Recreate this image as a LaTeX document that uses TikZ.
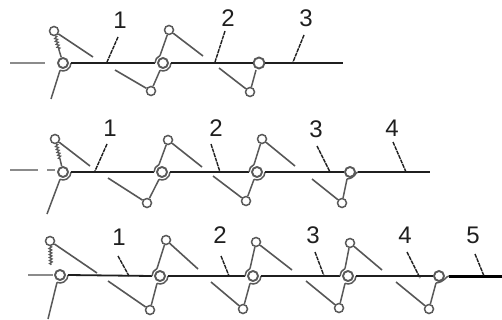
\documentclass[tikz,border=0pt]{standalone}
\usepackage{fontspec}
\setmainfont{Liberation Sans}
\usetikzlibrary{calc,decorations.pathmorphing}
\definecolor{ink}{gray}{0.12}
\definecolor{mid}{gray}{0.35}
\tikzset{
  x=1pt,y=-1pt,
  pinc/.style={circle,draw=mid,line width=1.5pt,fill=white,minimum size=9pt,inner sep=0pt},
  hubc/.style={circle,draw=mid,line width=1.9pt,minimum size=10pt,inner sep=0pt},
  link/.style={draw=mid,line width=1.5pt},
  lever/.style={draw=ink!75!white,line width=1.6pt},
  mainl/.style={draw=ink,line width=1.8pt},
  thickl/.style={draw=black,line width=3pt},
  dashl/.style={draw=mid!70!white,line width=1.6pt},
  leader/.style={draw=ink,line width=1.4pt,dash pattern=on 4pt off 0.8pt},
  spring/.style={draw=mid,line width=1.3pt,decorate,decoration={zigzag,amplitude=1.3pt,segment length=3pt}},
  lab/.style={font=\fontsize{24}{26}\selectfont,text=ink,inner sep=0pt}
}
% hub: name, x, y; defines the ends of its two hook arcs
\newcommand{\hubat}[3]{%
  \node[hubc] (#1) at (#2,#3) {};
  \coordinate (#1-l) at ($(#1.center)+(-8,0)$);
  \coordinate (#1-u) at ($(#1.center)+(-3,-7.4)$);
  \coordinate (#1-r) at ($(#1.center)+(8,0)$);
  \coordinate (#1-d) at ($(#1.center)+(-3,7.4)$);
  \draw[link] (#1-r) arc[start angle=0,end angle=112,radius=8];
}
\newcommand{\uparc}[1]{\draw[link] (#1-l) arc[start angle=180,end angle=248,radius=8];}
\newcommand{\labelled}[7]{%
  \node[lab] (#1) at (#2,#3) {#4};
  \coordinate (#1-t) at (#5,#6);
  \coordinate (#1-b) at (#7);
  \draw[leader] (#1-t) -- (#1-b);
}
\begin{document}
\begin{tikzpicture}
\useasboundingbox (0,0) rectangle (502,320);
\fill[white] (0,0) rectangle (502,320);

% ---------- row 1
\hubat{a1}{63}{63}\hubat{a2}{163}{63}
\node[hubc,minimum size=11pt] (a3) at (259,63) {};
\coordinate (a3-d) at (256,70);
\foreach \n/\x/\y in {at1/54/31,at2/169/30,ab2/151/91,ab3/250/92}
  \node[pinc] (\n) at (\x,\y) {};
\coordinate (aend) at (343,63);
\coordinate (adash1) at (10,63);\coordinate (adash2) at (45,63);
\coordinate (aleg) at (51,99);\coordinate (as1) at (59,50);
\coordinate (al1) at (93,57);\coordinate (al2) at (115,70);
\coordinate (al3) at (203,56);\coordinate (al4) at (219,68);
\draw[dashl] (adash1) -- (adash2);
\draw[mainl] (a1-r) -- (a2-l) (a2-r) -- (a3) (a3) -- (aend);
\uparc{a2}
\draw[spring] (at1) -- (as1);
\draw[link] (as1) -- (a1);
\draw[link] (a1-d) -- (aleg);
\draw[link] (at2) -- (a2-u);
\draw[link] (ab2) -- (a2-d);
\draw[link] (ab3) -- (a3-d);
\draw[lever] (at1) -- (al1);
\draw[lever] (al2) -- (ab2);
\draw[lever] (at2) -- (al3);
\draw[lever] (al4) -- (ab3);
\coordinate (ah1) at (107,62);\coordinate (ah2) at (215,62);\coordinate (ah3) at (293,62);
\labelled{la1}{120}{20}{1}{118}{37}{ah1}
\labelled{la2}{228}{18}{2}{225}{31}{ah2}
\labelled{la3}{306}{18}{3}{304}{35}{ah3}

% ---------- row 2
\hubat{b1}{63}{172}\hubat{b2}{162}{172}\hubat{b3}{257}{172}
\node[hubc] (b4) at (350,172) {};
\coordinate (b4-r) at (358,172);\coordinate (b4-d) at (347,179);
\draw[link] (b4-r) .. controls (355,172) and (356,178) .. (b4-d);
\foreach \n/\x/\y in {bt1/55/139,bt2/168/140,bt3/262/139,bb2/147/203,bb3/246/201,bb4/342/203}
  \node[pinc] (\n) at (\x,\y) {};
\coordinate (bend) at (430,172);
\coordinate (bdash1) at (10,170);\coordinate (bdash2) at (38,170);
\coordinate (bdash3) at (47,170);\coordinate (bdash4) at (55,170);
\coordinate (bleg) at (47,214);\coordinate (bs1) at (60,159);
\coordinate (bl1) at (90,166);\coordinate (bl2) at (108,178);
\coordinate (bl3) at (202,167);\coordinate (bl4) at (213,176);
\coordinate (bl5) at (295,166);\coordinate (bl6) at (312,179);
\draw[dashl] (bdash1) -- (bdash2) (bdash3) -- (bdash4);
\draw[mainl] (b1-r) -- (b2-l) (b2-r) -- (b3-l) (b3-r) -- (b4) (b4-r) -- (bend);
\uparc{b2}\uparc{b3}
\draw[spring] (bt1) -- (bs1);
\draw[link] (bs1) -- (b1);
\draw[link] (b1-d) -- (bleg);
\draw[link] (bt2) -- (b2-u);
\draw[link] (bt3) -- (b3-u);
\draw[link] (bb2) -- (b2-d);
\draw[link] (bb3) -- (b3-d);
\draw[link] (bb4) -- (b4-d);
\draw[lever] (bt1) -- (bl1);
\draw[lever] (bl2) -- (bb2);
\draw[lever] (bt2) -- (bl3);
\draw[lever] (bl4) -- (bb3);
\draw[lever] (bt3) -- (bl5);
\draw[lever] (bl6) -- (bb4);
\coordinate (bh1) at (95,171);\coordinate (bh2) at (220,172);
\coordinate (bh3) at (330,172);\coordinate (bh4) at (406,172);
\labelled{lb1}{110}{128}{1}{107}{144}{bh1}
\labelled{lb2}{216}{128}{2}{211}{144}{bh2}
\labelled{lb3}{316}{129}{3}{317}{146}{bh3}
\labelled{lb4}{392}{128}{4}{393}{142}{bh4}

% ---------- row 3
\hubat{c1}{60}{275}\hubat{c2}{160}{276}\hubat{c3}{253}{276}\hubat{c4}{348}{276}
\node[hubc] (c5) at (439,276) {};
\coordinate (c5-r) at (449,276);\coordinate (c5-d) at (436,283);
\foreach \n/\x/\y in {ct1/50/241,ct2/166/240,ct3/256/242,ct4/350/243,cb2/150/310,cb3/243/309,cb4/339/308,cb5/429/309}
  \node[pinc] (\n) at (\x,\y) {};
\coordinate (cend) at (502,276);
\coordinate (cdash1) at (28,275);\coordinate (cdash2) at (53,275);
\coordinate (cleg) at (48,319);\coordinate (cs1) at (51,265);
\coordinate (cl1) at (97,273);\coordinate (cl2) at (108,281);
\coordinate (cl3) at (198,269);\coordinate (cl4) at (211,282);
\coordinate (cl5) at (292,270);\coordinate (cl6) at (306,281);
\coordinate (cl7) at (382,270);\coordinate (cl8) at (396,282);
\draw[dashl] (cdash1) -- (cdash2);
\draw[mainl] (c1-r) -- (c2-l) (c2-r) -- (c3-l) (c3-r) -- (c4-l) (c4-r) -- (c5);
\draw[thickl] (c5-r) -- (cend);
\draw[link] (c5-r) .. controls (446,276) and (445,282) .. (c5-d);
\uparc{c2}\uparc{c3}\uparc{c4}
\draw[spring] (ct1) -- (cs1);
\draw[link] (c1-d) -- (cleg);
\draw[link] (ct2) -- (c2-u);
\draw[link] (ct3) -- (c3-u);
\draw[link] (ct4) -- (c4-u);
\draw[link] (cb2) -- (c2-d);
\draw[link] (cb3) -- (c3-d);
\draw[link] (cb4) -- (c4-d);
\draw[link] (cb5) -- (c5-d);
\draw[lever] (ct1) -- (cl1);
\draw[lever] (cl2) -- (cb2);
\draw[lever] (ct2) -- (cl3);
\draw[lever] (cl4) -- (cb3);
\draw[lever] (ct3) -- (cl5);
\draw[lever] (cl6) -- (cb4);
\draw[lever] (ct4) -- (cl7);
\draw[lever] (cl8) -- (cb5);
\coordinate (ch1) at (129,276);\coordinate (ch2) at (229,276);\coordinate (ch3) at (324,276);
\coordinate (ch4) at (420,278);\coordinate (ch5) at (484,276);
\labelled{lc1}{119}{237}{1}{118}{256}{ch1}
\labelled{lc2}{220}{235}{2}{221}{256}{ch2}
\labelled{lc3}{313}{235}{3}{315}{252}{ch3}
\labelled{lc4}{405}{235}{4}{407}{252}{ch4}
\labelled{lc5}{473}{235}{5}{475}{254}{ch5}
\end{tikzpicture}
\end{document}
